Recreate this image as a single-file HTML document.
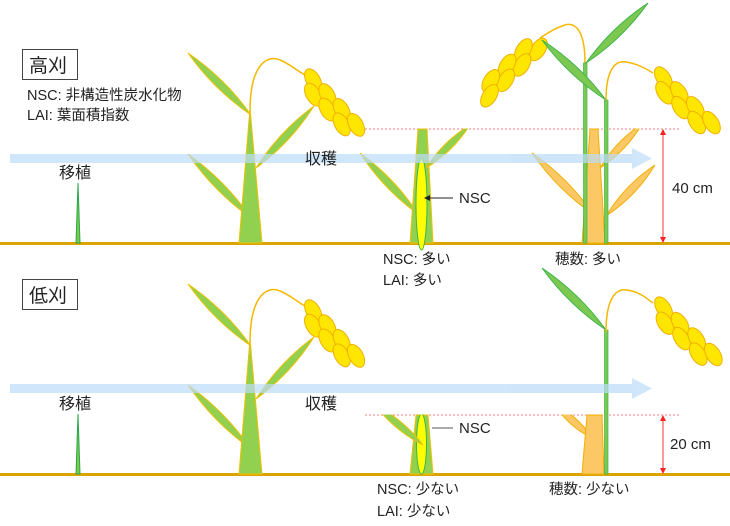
<!DOCTYPE html>
<html><head><meta charset="utf-8"><style>
html,body{margin:0;padding:0;background:#fff;}
svg{display:block;}
text{font-family:"Liberation Sans","Noto Sans CJK JP",sans-serif;fill:#222;}
</style></head><body>
<svg id="s" width="730" height="526" viewBox="0 0 730 526" xmlns="http://www.w3.org/2000/svg">
<defs><g id="plant"></g></defs>
<rect x="0" y="242" width="730" height="3" fill="#dba400"/>
<rect x="0" y="473" width="730" height="3" fill="#dba400"/>
<line x1="365" y1="129" x2="680" y2="129" stroke="#f08080" stroke-width="1" stroke-dasharray="2,2"/>
<line x1="365" y1="415" x2="680" y2="415" stroke="#f08080" stroke-width="1" stroke-dasharray="2,2"/>
<g id="fg"></g>
<g fill="#bcdcf8" opacity="0.7">
<rect x="10" y="154" width="622" height="9"/><polygon points="632,148 652,158.5 632,169"/>
<rect x="10" y="384" width="622" height="9"/><polygon points="632,378 652,388.5 632,399"/>
</g>
<g stroke="#ff3030" stroke-width="1" fill="#ff2020">
<line x1="663" y1="133" x2="663" y2="239"/><polygon points="660,135 666,135 663,129" stroke="none"/><polygon points="660,237 666,237 663,243" stroke="none"/>
<line x1="663" y1="419" x2="663" y2="470"/><polygon points="660,421 666,421 663,415" stroke="none"/><polygon points="660,468 666,468 663,474" stroke="none"/>
</g>
<line x1="453" y1="198" x2="428" y2="198" stroke="#222" stroke-width="1"/>
<polygon points="424,198 430,195 430,201" fill="#222"/>
<line x1="453" y1="428" x2="432" y2="428" stroke="#555" stroke-width="1"/>
<rect x="22.5" y="49.5" width="55" height="30" fill="#fff" stroke="#444" stroke-width="1"/>
<text x="29" y="72" font-size="19">高刈</text>
<rect x="22.5" y="279.5" width="55" height="30" fill="#fff" stroke="#444" stroke-width="1"/>
<text x="29" y="302" font-size="19">低刈</text>
<text x="27" y="100" font-size="14.5">NSC: 非構造性炭水化物</text>
<text x="27" y="120" font-size="14.5">LAI: 葉面積指数</text>
<text x="59" y="178" font-size="16">移植</text>
<text x="59" y="409" font-size="16">移植</text>
<text x="305" y="164" font-size="16">収穫</text>
<text x="305" y="409" font-size="16">収穫</text>
<text x="459" y="203" font-size="15">NSC</text>
<text x="459" y="433" font-size="15">NSC</text>
<text x="672" y="193" font-size="15">40 cm</text>
<text x="670" y="449" font-size="15">20 cm</text>
<text x="383" y="264" font-size="14.5">NSC: 多い</text>
<text x="383" y="285" font-size="14.5">LAI: 多い</text>
<text x="555" y="264" font-size="14.5">穂数: 多い</text>
<text x="377" y="494" font-size="14.5">NSC: 少ない</text>
<text x="377" y="516" font-size="14.5">LAI: 少ない</text>
<text x="549" y="494" font-size="14.5">穂数: 少ない</text>
</svg>
<script>
var NS="http://www.w3.org/2000/svg";
function el(p,t,a){var e=document.createElementNS(NS,t);for(var k in a)e.setAttribute(k,a[k]);p.appendChild(e);return e;}
var GF="#92d050",GS="#f0c000",OF="#fbc865",OS="#f0b000",TF="#7cc850",TS="#3cb44b";
function leaf(p,x1,y1,x2,y2,w,f,s){w=w*1.6;var mx=(x1+x2)/2,my=(y1+y2)/2,dx=x2-x1,dy=y2-y1,L=Math.hypot(dx,dy),nx=-dy/L*w,ny=dx/L*w;
el(p,"path",{d:"M"+x1+","+y1+" Q"+(mx+nx)+","+(my+ny)+" "+x2+","+y2+" Q"+(mx-nx)+","+(my-ny)+" "+x1+","+y1+"Z",fill:f,stroke:s,"stroke-width":1});}
function poly(p,pts,f,s){el(p,"polygon",{points:pts,fill:f,stroke:s,"stroke-width":1});}
function grains(p,x1,y1,x2,y2,n){var dx=x2-x1,dy=y2-y1,L=Math.hypot(dx,dy),a=Math.atan2(dy,dx)*180/Math.PI,nx=-dy/L,ny=dx/L;
for(var i=0;i<n;i++){var t=(i+0.5)/n,o=(i%2?1:-1)*5;var cx=x1+dx*t+nx*o,cy=y1+dy*t+ny*o;
el(p,"ellipse",{cx:cx,cy:cy,rx:12.5,ry:7,transform:"rotate("+(a+(dx>0?15:-15))+" "+cx+" "+cy+")",fill:"#ffe600",stroke:"#f0b000","stroke-width":1});}}
function stalk(p,d,c){el(p,"path",{d:d,fill:"none",stroke:c||"#f5b800","stroke-width":1.5});}
var P=document.getElementById("plant");
stalk(P,"M250,112 C250,60 270,55 280,60 C290,64 296,70 305,75");
leaf(P,188,53,251,115,5,GF,GS);
leaf(P,188,154,251,218,5,GF,GS);
poly(P,"239,243 262,243 250,108",GF,GS);
leaf(P,314,106,256,168,5,GF,GS);
grains(P,306,80,356,132,7);
var fg=document.getElementById("fg");
el(fg,"use",{href:"#plant"});
el(fg,"use",{href:"#plant",transform:"translate(0,231)"});
poly(fg,"76,243 80,243 78,183",TF,"#2aa84a");
poly(fg,"76,474 80,474 78,414",TF,"#2aa84a");
leaf(fg,360,153,418,214,5,GF,GS);
poly(fg,"410,243 433,243 427,129 418,129",GF,GS);
leaf(fg,426,168,470,125,4.5,GF,GS);
el(fg,"rect",{x:420,y:120,width:60,height:8.5,fill:"#fff"});
el(fg,"ellipse",{cx:421.5,cy:204,rx:5.5,ry:46,fill:"#ffff00",stroke:"#3cb44b","stroke-width":1});
poly(fg,"410,474 433,474 428,415 416,415",GF,GS);
el(fg,"ellipse",{cx:421.5,cy:444,rx:5,ry:30,fill:"#ffff00",stroke:"#3cb44b","stroke-width":1});
leaf(fg,375,405,423,445,4.5,GF,GS);
el(fg,"rect",{x:365,y:400,width:60,height:14.5,fill:"#fff"});
leaf(fg,532,153,594,215,5,OF,OS);
leaf(fg,655,165,606,216,5,OF,OS);
leaf(fg,600,168,642,124,4.5,OF,OS);
el(fg,"rect",{x:600,y:115,width:50,height:13.5,fill:"#fff"});
poly(fg,"582,243 605,243 598,129 590,129",OF,OS);
stalk(fg,"M585,63 C585,30 575,22 565,25 C555,28 548,33 540,38");
grains(fg,539,42,482,96,7);
el(fg,"rect",{x:583.5,y:63,width:3.5,height:180,fill:TF,stroke:TS,"stroke-width":0.7});
el(fg,"rect",{x:604.5,y:100,width:3.5,height:143,fill:TF,stroke:TS,"stroke-width":0.7});
leaf(fg,542,40,606,100,5,TF,TS);
leaf(fg,648,3,586,63,5,TF,TS);
stalk(fg,"M606,100 C606,70 615,60 626,62 C638,64 645,68 653,73");
grains(fg,656,78,712,130,7);
leaf(fg,555,405,592,438,4.5,OF,OS);
el(fg,"rect",{x:550,y:398,width:45,height:16.5,fill:"#fff"});
poly(fg,"582,474 604,474 602,415 587,415",OF,OS);
el(fg,"rect",{x:604.5,y:330,width:3.5,height:144,fill:TF,stroke:TS,"stroke-width":0.7});
leaf(fg,542,268,606,330,5,TF,TS);
stalk(fg,"M606,332 C606,300 615,288 627,290 C640,292 646,298 653,303");
grains(fg,656,308,714,362,7);
</script>
</body></html>
